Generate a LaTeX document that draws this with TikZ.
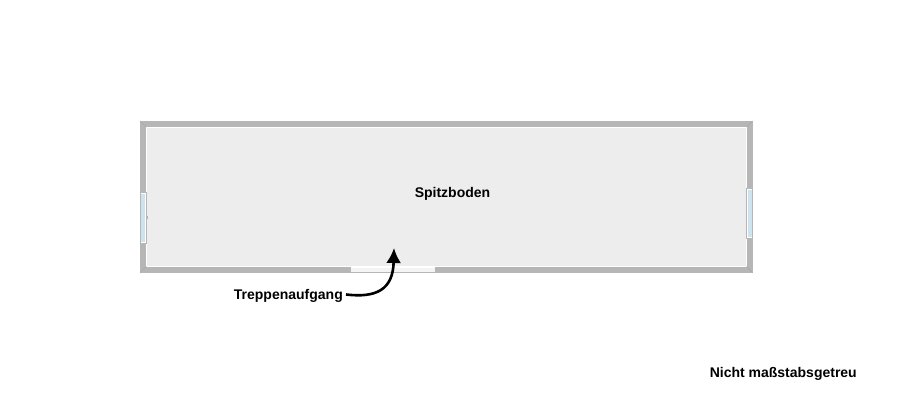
\documentclass[tikz,border=0pt]{standalone}
\usepackage{fontspec}
\setmainfont{Liberation Sans}
\usetikzlibrary{arrows.meta}
\definecolor{wandgrau}{RGB}{182,182,182}
\definecolor{bodengrau}{RGB}{237,237,237}
\definecolor{glasblau}{RGB}{205,228,238}
\tikzset{
  beschriftung/.style={font=\bfseries\fontsize{14}{17}\selectfont, text=black, inner sep=0pt},
  fenster/.style={fill=white, draw=wandgrau, line width=.5pt},
  pfeil/.style={-{Latex[length=15pt,width=15pt]}, line width=2.6pt, black}
}
\begin{document}
\begin{tikzpicture}[x=1pt,y=-1pt]
\useasboundingbox (0,0) rectangle (910,400);
\fill[white] (0,0) rectangle (910,400);
\fill[wandgrau] (140,121) rectangle (752.5,272.5);
\fill[bodengrau] (146.5,127) rectangle (746.5,266.5);
\draw[white, line width=.5pt] (146.5,127) rectangle (746.5,266.5);
\draw[gray!70!white, line width=.4pt] (140,121) -- (146.5,127);
\draw[gray!70!white, line width=.4pt] (752.5,121) -- (746.5,127);
\draw[gray!70!white, line width=.4pt] (140,272.5) -- (146.5,266.5);
\draw[gray!70!white, line width=.4pt] (752.5,272.5) -- (746.5,266.5);
% Fenster links
\draw[fenster] (140,192.5) rectangle (146.5,243);
\fill[glasblau] (141,194) rectangle (144.5,241.5);
\fill[wandgrau] (146,216) rectangle (147.5,218.5);
% Fenster rechts
\draw[fenster] (746.5,188.5) rectangle (752.5,238);
\fill[glasblau] (748,189.5) rectangle (752,237);
\fill[wandgrau] (745.5,213.5) rectangle (747,216);
% Tuer
\fill[bodengrau!60!white] (350.5,267) rectangle (434.5,271.5);
\draw[white, line width=.6pt] (350.5,266.8) -- (434.5,266.8);
\node[beschriftung] (raum) at (452.5,194) {Spitzboden};
\node[beschriftung, anchor=east] (treppe) at (343,295.5) {Treppenaufgang};
\node[beschriftung, anchor=east] (massstab) at (857,373.7) {Nicht maßstabsgetreu};
\coordinate (aufgang) at (394,248);
\draw[pfeil] ([xshift=3pt,yshift=1pt]treppe.east) .. controls (376,298) and (393,290) .. (aufgang);
\end{tikzpicture}
\end{document}
